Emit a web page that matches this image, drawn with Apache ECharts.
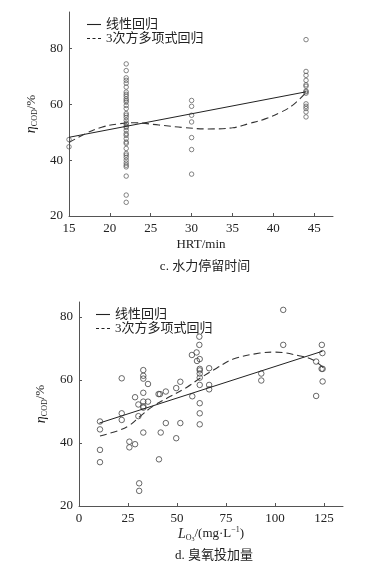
<!DOCTYPE html>
<html><head><meta charset="utf-8">
<script src="https://cdn.jsdelivr.net/npm/echarts@6/dist/echarts.min.js"></script>
<style>html,body{margin:0;padding:0;background:#fff}#c{width:391px;height:567px}</style>
</head><body><div id="c"></div>
<script>
// ---- chart c: HRT ----
const hrtTicks = [15, 20, 25, 30, 35, 40, 45];
const etaTicksC = [20, 40, 60, 80];
const hrtEta15 = [47.4, 44.8];
const hrtEta22 = [74.5, 72.1, 69.5, 68.6, 67.6, 66.2, 64.4, 63.6, 62.9, 62.0, 61.4, 60.8, 59.6, 58.5, 56.7, 56.1, 55.3, 54.3, 53.3, 52.9, 52.1, 51.7, 50.7, 49.5, 48.9, 47.7, 46.5, 46.0, 44.2, 42.4, 41.8, 41.0, 40.0, 39.0, 38.2, 37.6, 34.3, 27.5, 24.9];
const hrtEta30 = [61.4, 59.3, 56.1, 53.7, 48.1, 43.8, 35.0];
const hrtEta44 = [83.2, 71.8, 70.4, 68.6, 67.0, 66.5, 64.8, 64.5, 64.0, 60.2, 59.3, 58.5, 57.3, 55.5];
const hrtLinX = [15, 44];
const hrtLinY = [48.2, 64.5];
const hrtCubX = [15, 17, 19, 21, 23, 26, 29, 32, 35, 37, 39, 41, 42.5, 44];
const hrtCubY = [46.3, 49.5, 51.8, 53.0, 53.4, 52.6, 51.7, 51.2, 51.6, 53.1, 54.8, 57.3, 60.0, 64.3];

// ---- chart d: ozone dose ----
const doseTicks = [0, 25, 50, 75, 100, 125];
const etaTicksD = [20, 40, 60, 80];
const doseX = [10.7, 10.7, 10.7, 10.7, 21.8, 21.8, 21.8, 25.7, 25.7, 28.6, 28.6, 30.3, 30.3, 30.7, 30.7, 32.8, 32.8, 32.8, 32.8, 32.8, 32.8, 32.8, 32.8, 35.2, 35.2, 40.6, 41.3, 41.7, 40.8, 44.3, 44.3, 49.6, 49.6, 51.7, 51.7, 57.6, 57.8, 60.0, 60.2, 61.4, 61.4, 61.6, 61.6, 61.6, 61.6, 61.6, 61.6, 61.6, 61.6, 61.6, 66.4, 66.4, 66.4, 93.0, 93.0, 104.2, 104.2, 121.0, 121.0, 123.9, 124.2, 123.8, 124.3, 124.3];
const doseEta = [46.8, 44.3, 37.8, 33.9, 60.5, 49.4, 47.3, 40.4, 38.6, 54.5, 39.6, 52.2, 48.5, 27.2, 24.8, 63.1, 61.3, 60.4, 55.9, 53.1, 51.6, 51.2, 43.3, 58.7, 53.1, 55.5, 55.5, 43.3, 34.8, 56.3, 46.3, 57.4, 41.5, 59.4, 46.3, 67.9, 54.8, 68.7, 66.0, 73.7, 71.1, 66.6, 63.5, 63.0, 62.0, 60.7, 58.4, 52.6, 49.4, 45.9, 63.7, 58.4, 57.0, 62.0, 59.8, 82.2, 71.1, 65.8, 54.9, 71.1, 68.5, 63.5, 63.5, 59.5];
const doseLinX = [10.4, 124.3];
const doseLinY = [46.3, 69.1];
const doseCubX = [10.7, 20.9, 26, 31.1, 37.9, 46.4, 54.9, 61.7, 70.2, 78.7, 92.3, 100, 112.8, 119.5, 124.6];
const doseCubY = [42.2, 44.1, 45.7, 48.4, 51.7, 54.7, 57.6, 60.5, 63.7, 66.6, 68.5, 68.8, 67.6, 66.3, 63.9];

const FONT = "'Liberation Serif', 'Times New Roman', 'Noto Sans CJK SC', serif";
const INK = '#222';
const AXC = '#555';
const zip = (xs, ys) => xs.map((x, i) => [x, ys[i]]);

const hrtPts = [].concat(
  hrtEta15.map(v => [15, v]),
  hrtEta22.map(v => [22, v]),
  hrtEta30.map(v => [30, v]),
  hrtEta44.map(v => [44, v])
);

function mkAxis(gi, min, max, interval, ticks, extra) {
  return Object.assign({
    type: 'value', gridIndex: gi, min: min, max: max, interval: interval,
    splitLine: { show: false },
    axisLine: { show: true, onZero: false, lineStyle: { color: AXC, width: 1 } },
    axisTick: { show: true, inside: true, length: 3, customValues: ticks, lineStyle: { color: AXC } },
    axisLabel: {
      customValues: ticks, color: INK, fontSize: 13, fontFamily: FONT, margin: 6,
      formatter: v => ticks.indexOf(v) >= 0 ? String(v) : ''
    }
  }, extra || {});
}

const richName = {
  i: { fontStyle: 'italic', fontSize: 14, fontFamily: FONT, color: INK, lineHeight: 16 },
  s: { fontSize: 8, fontFamily: FONT, color: INK, verticalAlign: 'bottom', lineHeight: 8 },
  ss: { fontSize: 6, fontFamily: FONT, color: INK, verticalAlign: 'bottom', lineHeight: 5 },
  n: { fontSize: 13, fontFamily: FONT, color: INK, lineHeight: 16 },
  sup: { fontSize: 8, fontFamily: FONT, color: INK, verticalAlign: 'top', lineHeight: 8 }
};

const SOLID_ICON = 'path://M0,0h14v1.1h-14z';
const DASH_ICON = 'path://M0,0h3v1.1h-3z M5.5,0h3v1.1h-3z M11,0h3v1.1h-3z';

const legendCommon = {
  orient: 'vertical', itemWidth: 14, itemHeight: 14, itemGap: 1, symbolKeepAspect: true,
  textStyle: { fontSize: 13, fontFamily: FONT, color: INK },
  selectedMode: false,
  itemStyle: { color: '#222' },
  data: [{ name: '线性回归', icon: SOLID_ICON }, { name: '3次方多项式回归', icon: DASH_ICON }]
};

const option = {
  animation: false,
  backgroundColor: '#fff',
  title: [
    { text: 'c. 水力停留时间', left: 200, top: 255, textAlign: 'center',
      textStyle: { fontSize: 13, fontWeight: 'normal', fontFamily: FONT, color: INK } },
    { text: 'd. 臭氧投加量', left: 209, top: 544, textAlign: 'center',
      textStyle: { fontSize: 13, fontWeight: 'normal', fontFamily: FONT, color: INK } }
  ],
  legend: [
    Object.assign({ left: 82, top: 13 }, legendCommon),
    Object.assign({ left: 91, top: 303 }, legendCommon)
  ],
  grid: [
    { left: 69, top: 12, width: 264, height: 204 },
    { left: 79, top: 302, width: 264, height: 204 }
  ],
  xAxis: [
    mkAxis(0, 15, 47.3, 5, hrtTicks, {
      name: 'HRT/min', nameLocation: 'middle', nameGap: 22,
      nameTextStyle: { fontSize: 13, fontFamily: FONT, color: INK }
    }),
    mkAxis(1, 0, 134.7, 25, doseTicks, {
      name: '{i|L}{s|O}{ss|3}{n|/(mg·L}{sup|−1}{n|)}', nameLocation: 'middle', nameGap: 20,
      nameTextStyle: { rich: richName }
    })
  ],
  yAxis: [
    mkAxis(0, 20, 93.1, 20, etaTicksC, {
      name: '{i|η}{s|COD}{n|/%}', nameLocation: 'middle', nameGap: 27, nameRotate: 90,
      nameTextStyle: { rich: richName }
    }),
    mkAxis(1, 20, 84.7, 20, etaTicksD, {
      name: '{i|η}{s|COD}{n|/%}', nameLocation: 'middle', nameGap: 30, nameRotate: 90,
      nameTextStyle: { rich: richName }
    })
  ],
  series: [
    { type: 'scatter', xAxisIndex: 0, yAxisIndex: 0, data: hrtPts, symbol: 'circle', symbolSize: 4.5,
      itemStyle: { color: 'rgba(0,0,0,0)', borderColor: '#555', borderWidth: 0.9 }, z: 3 },
    { type: 'line', name: '线性回归', xAxisIndex: 0, yAxisIndex: 0, data: zip(hrtLinX, hrtLinY),
      showSymbol: false, symbol: 'none', itemStyle: { color: '#222' }, lineStyle: { color: '#222', width: 1 }, z: 4 },
    { type: 'line', name: '3次方多项式回归', xAxisIndex: 0, yAxisIndex: 0, data: zip(hrtCubX, hrtCubY),
      smooth: 0.4, showSymbol: false, symbol: 'none', itemStyle: { color: '#222' }, lineStyle: { color: '#333', width: 1.1, type: [7, 4] }, z: 4 },

    { type: 'scatter', xAxisIndex: 1, yAxisIndex: 1, data: zip(doseX, doseEta), symbol: 'circle', symbolSize: 5.5,
      itemStyle: { color: 'rgba(0,0,0,0)', borderColor: '#444', borderWidth: 1 }, z: 3 },
    { type: 'line', name: '线性回归', xAxisIndex: 1, yAxisIndex: 1, data: zip(doseLinX, doseLinY),
      showSymbol: false, symbol: 'none', itemStyle: { color: '#222' }, lineStyle: { color: '#222', width: 1 }, z: 4 },
    { type: 'line', name: '3次方多项式回归', xAxisIndex: 1, yAxisIndex: 1, data: zip(doseCubX, doseCubY),
      smooth: 0.4, showSymbol: false, symbol: 'none', itemStyle: { color: '#222' }, lineStyle: { color: '#333', width: 1.1, type: [7, 4] }, z: 4 }
  ]
};

const chart = echarts.init(document.getElementById('c'), null, { renderer: 'canvas' });
chart.setOption(option);
</script>
</body></html>
